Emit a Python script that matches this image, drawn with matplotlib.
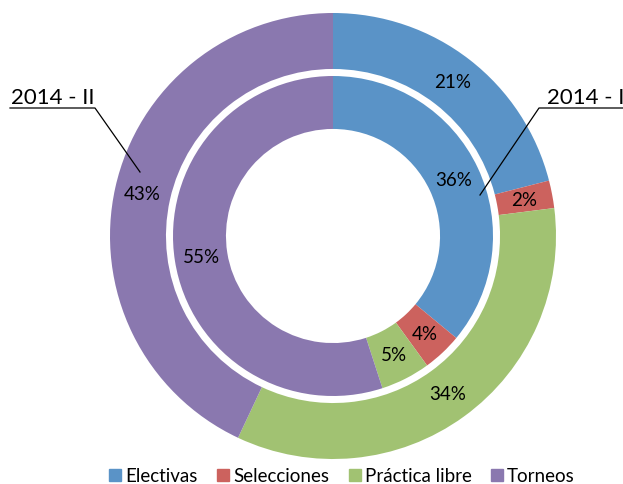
import matplotlib.pyplot as plt

categories = ["Electivas", "Selecciones", "Práctica libre", "Torneos"]
outer_2014_II = [21, 2, 34, 43]
inner_2014_I = [36, 4, 5, 55]
colors = ["#5A93C7", "#CC625E", "#A1C272", "#8A78AF"]

plt.rcParams['font.family'] = ['Lato', 'DejaVu Sans']

W, H = 623, 485
cx, cy, R = 333, 237, 223  # pie centre and outer radius in pixels

fig = plt.figure(figsize=(W / 100, H / 100), dpi=100)
ax = fig.add_axes([0, 0, 1, 1])
ax.axis('off')


def px(x, y):
    return (x - cx) / R, (cy - y) / R


r_out_in = 0.749
r_in_out = 0.7175
r_hole = 0.48

ax.pie(
    outer_2014_II, radius=1, colors=colors, startangle=90, counterclock=False,
    wedgeprops=dict(width=1 - r_out_in, linewidth=0),
    autopct=lambda p: f'{p:.0f}%', pctdistance=(1 + r_out_in) / 2,
    textprops=dict(fontsize=13.5, color='black'))
ax.pie(
    inner_2014_I, radius=r_in_out, colors=colors, startangle=90, counterclock=False,
    wedgeprops=dict(width=r_in_out - r_hole, linewidth=0),
    autopct=lambda p: f'{p:.0f}%', pctdistance=((r_in_out + r_hole) / 2) / r_in_out,
    textprops=dict(fontsize=13.5, color='black'))
ax.set_xlim(-cx / R, (W - cx) / R)
ax.set_ylim((cy - H) / R, cy / R)
ax.set_aspect('auto')

# series call-outs
for pts, label, tx in [([(10, 109), (95, 109), (140, 173)], "2014 - II", 11),
                       ([(623, 109), (539, 109), (480, 196)], "2014 - I", 547)]:
    xs, ys = zip(*[px(x, y) for x, y in pts])
    ax.plot(xs, ys, color='black', lw=0.9)
    x0, y0 = px(tx, 104)
    ax.text(x0, y0, label, fontsize=16, ha='left', va='baseline')

handles = [plt.Rectangle((0, 0), 1, 1, color=c) for c in colors]
fig.legend(handles, categories, loc='center', bbox_to_anchor=(342 / W, 1 - 477 / H),
           ncol=4, frameon=False, fontsize=13.5, handlelength=0.65, handleheight=0.65,
           handletextpad=0.2, columnspacing=1.05)

fig.savefig('out.png', dpi=100)
